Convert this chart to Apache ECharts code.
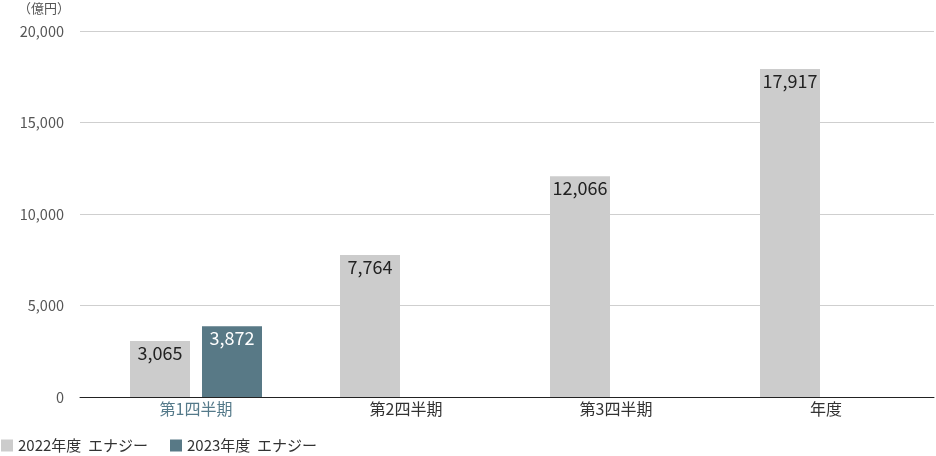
<!DOCTYPE html>
<html><head><meta charset="utf-8">
<script src="https://cdn.jsdelivr.net/npm/echarts@6/dist/echarts.min.js"></script>
<style>html,body{margin:0;padding:0;background:#fff}#c{width:936px;height:456px}</style>
</head><body><div id="c"></div>
<script>
const categories = ['第1四半期','第2四半期','第3四半期','年度'];
const series2022 = [3065, 7764, 12066, 17917];
const series2023 = [3872, null, null, null];
const seriesNames = ['2022年度  エナジー','2023年度  エナジー'];
const yTicks = [0, 5000, 10000, 15000, 20000];
const unitLabel = '（億円）';

const font = '"Noto Sans CJK JP", "Noto Sans", sans-serif';
const yMin = yTicks[0], yMax = yTicks[yTicks.length - 1];
const chart = echarts.init(document.getElementById('c'));
chart.setOption({
  animation: false,
  textStyle: {fontFamily: font},
  title: {text: unitLabel, left: 13, top: -3,
    textStyle: {fontSize: 13, fontWeight: 'normal', color: '#555', fontFamily: font}},
  grid: [
    {left: 91, right: 5, top: 31, bottom: 59},
    {left: 80, right: 2, top: 31, bottom: 59}
  ],
  legend: {
    left: -4, top: 433, itemWidth: 12, itemHeight: 12, itemGap: 22,
    icon: 'rect',
    textStyle: {fontSize: 15, color: '#333', fontFamily: font},
    data: seriesNames
  },
  xAxis: [
    {
      type: 'category', data: categories, gridIndex: 0,
      axisLine: {show: false},
      axisTick: {show: false},
      axisLabel: {
        fontSize: 16, margin: 4, color: '#333',
        formatter: (v, i) => i === 0 ? '{a|' + v + '}' : v,
        rich: {a: {color: '#557a8a', fontSize: 16, fontFamily: font}}
      }
    },
    {
      type: 'value', gridIndex: 1, min: 0, max: 1,
      axisLine: {show: true, onZero: false, lineStyle: {color: '#222', width: 1}},
      axisTick: {show: false}, axisLabel: {show: false}, splitLine: {show: false}
    }
  ],
  yAxis: [
    {
      type: 'value', gridIndex: 0, min: yMin, max: yMax, interval: 5000,
      axisLine: {show: false}, axisTick: {show: false},
      splitLine: {show: false},
      axisLabel: {fontSize: 14.5, color: '#555', margin: 27,
        formatter: v => v.toLocaleString('en-US')}
    },
    {
      type: 'value', gridIndex: 1, min: yMin, max: yMax, interval: 5000,
      axisLine: {show: false}, axisTick: {show: false}, axisLabel: {show: false},
      splitLine: {lineStyle: {color: '#cfcfcf'}}
    }
  ],
  series: [
    {name: seriesNames[0], type: 'bar', data: series2022, barWidth: 60, barGap: '20%',
     itemStyle: {color: '#cccccc'},
     label: {show: true, position: 'insideTop', distance: 3, fontSize: 18, color: '#222',
       fontFamily: font, formatter: p => p.value.toLocaleString('en-US')}},
    {name: seriesNames[1], type: 'bar', data: series2023, barWidth: 60,
     itemStyle: {color: '#587986'},
     label: {show: true, position: 'insideTop', distance: 3, fontSize: 18, color: '#fff',
       fontFamily: font, formatter: p => p.value == null ? '' : p.value.toLocaleString('en-US')}}
  ]
});
</script></body></html>
